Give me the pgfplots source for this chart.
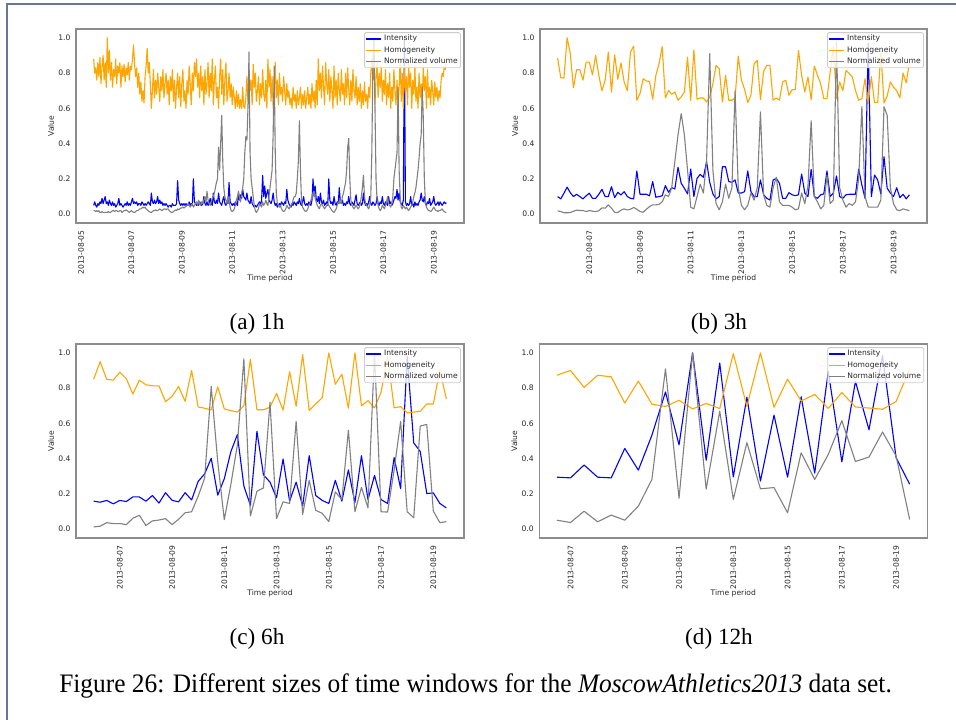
\documentclass[border=0pt]{standalone}
\usepackage{fontspec}
\setmainfont{Liberation Serif}
\newfontfamily\dv{DejaVu Sans}
\usepackage{pgfplots}
\usepackage{pgfplotstable}
\pgfplotsset{compat=1.18}
\definecolor{cI}{RGB}{0,0,255}
\definecolor{cH}{RGB}{255,165,0}
\definecolor{cV}{RGB}{128,128,128}
\definecolor{pageframe}{RGB}{100,120,150}

% ---------- (a) 1h ----------
\pgfplotstableread[row sep=crcr,header=false]{
0.88\\0.80\\0.83\\0.76\\0.86\\0.78\\0.89\\0.74\\0.84\\0.90\\0.76\\0.86\\
0.72\\1.00\\0.80\\0.93\\0.76\\0.86\\0.72\\0.82\\0.78\\0.88\\0.74\\0.84\\
0.80\\0.86\\0.72\\0.84\\0.78\\0.85\\0.75\\0.83\\0.79\\0.86\\0.76\\0.84\\
0.82\\0.88\\0.96\\0.85\\0.78\\0.83\\0.72\\0.80\\0.68\\0.75\\0.64\\0.70\\
0.63\\0.78\\0.84\\0.94\\0.80\\0.86\\0.74\\0.60\\0.70\\0.82\\0.66\\0.76\\
0.68\\0.80\\0.72\\0.64\\0.78\\0.70\\0.82\\0.66\\0.74\\0.80\\0.68\\0.76\\
0.62\\0.78\\0.70\\0.82\\0.64\\0.76\\0.60\\0.72\\0.80\\0.66\\0.78\\0.61\\
0.74\\0.82\\0.64\\0.70\\0.60\\0.76\\0.68\\0.84\\0.74\\0.62\\0.80\\0.70\\
0.86\\0.78\\0.88\\0.72\\0.80\\0.66\\0.84\\0.70\\0.78\\0.62\\0.82\\0.68\\
0.74\\0.86\\0.66\\0.80\\0.70\\0.88\\0.62\\0.76\\0.84\\0.66\\0.72\\0.60\\
0.78\\0.88\\0.68\\0.82\\0.62\\0.76\\0.86\\0.64\\0.70\\0.80\\0.66\\0.74\\
0.62\\0.72\\0.66\\0.60\\0.70\\0.61\\0.68\\0.60\\0.65\\0.60\\0.72\\0.61\\
0.60\\0.66\\0.78\\0.64\\0.82\\0.70\\0.76\\0.62\\0.85\\0.72\\0.80\\0.64\\
0.70\\0.78\\0.62\\0.74\\0.66\\0.82\\0.68\\0.64\\0.76\\0.60\\0.88\\0.72\\
0.82\\0.64\\0.78\\0.60\\0.70\\0.86\\0.66\\0.76\\0.62\\0.80\\0.68\\0.72\\
0.64\\0.78\\0.70\\0.62\\0.74\\0.66\\0.70\\0.62\\0.66\\0.60\\0.72\\0.64\\
0.68\\0.60\\0.70\\0.62\\0.66\\0.72\\0.60\\0.68\\0.62\\0.70\\0.60\\0.66\\
0.72\\0.62\\0.68\\0.60\\0.74\\0.64\\0.70\\0.60\\0.76\\0.62\\0.88\\0.70\\
0.80\\0.66\\0.84\\0.72\\0.62\\0.86\\0.74\\0.68\\0.82\\0.64\\0.78\\0.70\\
0.60\\0.84\\0.66\\0.76\\0.62\\0.80\\0.70\\0.64\\0.82\\0.68\\0.74\\0.62\\
0.80\\0.66\\0.83\\0.70\\0.62\\0.76\\0.64\\0.82\\0.70\\0.66\\0.78\\0.62\\
0.72\\0.64\\0.74\\0.60\\0.70\\0.62\\0.75\\0.64\\0.68\\0.60\\0.72\\0.66\\
0.80\\0.88\\0.76\\0.84\\0.62\\0.78\\0.86\\0.66\\0.80\\0.72\\0.84\\0.64\\
0.76\\0.68\\0.82\\0.62\\0.74\\0.66\\0.80\\0.60\\0.72\\0.64\\0.82\\0.70\\
0.62\\0.76\\0.60\\0.72\\0.88\\0.64\\0.80\\0.60\\0.84\\0.70\\0.78\\0.62\\
0.86\\0.72\\0.80\\0.60\\0.76\\0.68\\0.84\\0.64\\0.72\\0.60\\0.80\\0.66\\
0.74\\0.62\\0.84\\0.70\\0.78\\0.60\\0.82\\0.66\\0.72\\0.62\\0.76\\0.70\\
0.62\\0.75\\0.66\\0.72\\0.64\\0.70\\0.66\\0.76\\0.80\\0.78\\0.84\\0.82\\
0.88\\}\aH
\pgfplotstableread[row sep=crcr,header=false]{
0.05\\0.07\\0.05\\0.04\\0.06\\0.05\\0.07\\0.06\\0.09\\0.06\\0.08\\0.10\\
0.06\\0.07\\0.05\\0.08\\0.06\\0.05\\0.07\\0.05\\0.06\\0.04\\0.05\\0.06\\
0.09\\0.05\\0.06\\0.05\\0.04\\0.05\\0.06\\0.05\\0.07\\0.05\\0.06\\0.05\\
0.07\\0.09\\0.06\\0.07\\0.06\\0.07\\0.05\\0.06\\0.06\\0.05\\0.07\\0.06\\
0.05\\0.06\\0.05\\0.06\\0.07\\0.06\\0.05\\0.12\\0.07\\0.06\\0.08\\0.06\\
0.07\\0.10\\0.06\\0.08\\0.06\\0.07\\0.05\\0.06\\0.05\\0.06\\0.05\\0.04\\
0.05\\0.05\\0.04\\0.06\\0.05\\0.05\\0.05\\0.06\\0.19\\0.08\\0.06\\0.05\\
0.06\\0.05\\0.06\\0.05\\0.06\\0.05\\0.05\\0.07\\0.05\\0.06\\0.05\\0.20\\
0.07\\0.06\\0.05\\0.06\\0.05\\0.07\\0.06\\0.05\\0.06\\0.10\\0.06\\0.05\\
0.07\\0.05\\0.06\\0.09\\0.06\\0.05\\0.12\\0.07\\0.06\\0.08\\0.06\\0.12\\
0.07\\0.06\\0.05\\0.08\\0.10\\0.06\\0.05\\0.07\\0.06\\0.18\\0.07\\0.06\\
0.05\\0.06\\0.05\\0.07\\0.06\\0.05\\0.12\\0.08\\0.11\\0.09\\0.14\\0.10\\
0.09\\0.08\\0.12\\0.08\\0.07\\0.06\\0.10\\0.06\\0.05\\0.04\\0.05\\0.04\\
0.05\\0.06\\0.07\\0.05\\0.08\\0.22\\0.10\\0.16\\0.09\\0.12\\0.14\\0.08\\
0.07\\0.06\\0.08\\0.12\\0.07\\0.05\\0.06\\0.04\\0.05\\0.06\\0.05\\0.07\\
0.06\\0.05\\0.07\\0.06\\0.14\\0.08\\0.06\\0.05\\0.04\\0.06\\0.05\\0.07\\
0.06\\0.05\\0.07\\0.06\\0.09\\0.06\\0.05\\0.07\\0.10\\0.06\\0.05\\0.06\\
0.05\\0.07\\0.06\\0.05\\0.08\\0.20\\0.10\\0.16\\0.09\\0.07\\0.10\\0.06\\
0.12\\0.07\\0.06\\0.08\\0.05\\0.06\\0.07\\0.05\\0.20\\0.08\\0.06\\0.07\\
0.05\\0.10\\0.06\\0.05\\0.07\\0.06\\0.15\\0.07\\0.06\\0.08\\0.05\\0.06\\
0.05\\0.07\\0.06\\0.10\\0.06\\0.05\\0.07\\0.06\\0.05\\0.08\\0.11\\0.06\\
0.05\\0.06\\0.07\\0.05\\0.06\\0.12\\0.07\\0.05\\0.06\\0.05\\0.07\\0.10\\
0.06\\0.05\\0.07\\0.06\\0.05\\0.06\\0.10\\0.06\\0.05\\0.07\\0.06\\0.10\\
0.06\\0.05\\0.07\\0.06\\0.05\\0.10\\0.06\\0.07\\0.05\\0.06\\0.08\\0.10\\
0.09\\0.14\\0.08\\0.12\\0.07\\0.06\\0.05\\0.08\\1.00\\0.07\\0.05\\0.06\\
0.05\\0.06\\0.10\\0.05\\0.06\\0.04\\0.07\\0.05\\0.06\\0.05\\0.07\\0.08\\
0.12\\0.08\\0.07\\0.10\\0.06\\0.05\\0.07\\0.06\\0.09\\0.05\\0.06\\0.07\\
0.10\\0.06\\0.05\\0.06\\0.07\\0.05\\0.07\\0.06\\0.05\\0.06\\0.07\\0.06\\
0.065\\}\aI
\pgfplotstableread[row sep=crcr,header=false]{
0.02\\0.02\\0.015\\0.02\\0.015\\0.02\\0.01\\0.01\\0.015\\0.01\\0.01\\0.01\\
0.01\\0.01\\0.015\\0.01\\0.01\\0.015\\0.02\\0.02\\0.015\\0.02\\0.02\\0.015\\
0.015\\0.02\\0.02\\0.01\\0.015\\0.02\\0.02\\0.025\\0.02\\0.015\\0.01\\0.015\\
0.02\\0.015\\0.01\\0.01\\0.015\\0.02\\0.02\\0.025\\0.03\\0.03\\0.035\\0.04\\
0.035\\0.04\\0.03\\0.025\\0.02\\0.015\\0.01\\0.01\\0.015\\0.02\\0.02\\0.025\\
0.02\\0.02\\0.025\\0.03\\0.025\\0.02\\0.025\\0.03\\0.03\\0.025\\0.03\\0.03\\
0.02\\0.015\\0.01\\0.01\\0.015\\0.02\\0.025\\0.02\\0.03\\0.025\\0.03\\0.035\\
0.035\\0.04\\0.035\\0.04\\0.045\\0.05\\0.06\\0.05\\0.04\\0.05\\0.06\\0.04\\
0.05\\0.06\\0.07\\0.05\\0.08\\0.06\\0.05\\0.07\\0.06\\0.08\\0.10\\0.07\\
0.13\\0.08\\0.06\\0.05\\0.07\\0.09\\0.10\\0.12\\0.15\\0.18\\0.20\\0.38\\
0.25\\0.40\\0.56\\0.30\\0.15\\0.10\\0.08\\0.06\\0.10\\0.08\\0.04\\0.02\\
0.015\\0.02\\0.03\\0.05\\0.08\\0.10\\0.13\\0.09\\0.07\\0.12\\0.15\\0.20\\
0.35\\0.44\\0.42\\0.60\\0.92\\0.35\\0.20\\0.15\\0.10\\0.05\\0.02\\0.01\\
0.02\\0.03\\0.06\\0.05\\0.04\\0.07\\0.05\\0.06\\0.08\\0.06\\0.05\\0.10\\
0.15\\0.20\\0.25\\0.45\\0.84\\0.35\\0.12\\0.06\\0.05\\0.04\\0.05\\0.03\\
0.02\\0.015\\0.02\\0.03\\0.05\\0.04\\0.03\\0.04\\0.05\\0.06\\0.08\\0.10\\
0.10\\0.12\\0.20\\0.30\\0.53\\0.25\\0.08\\0.04\\0.03\\0.02\\0.015\\0.02\\
0.03\\0.05\\0.06\\0.08\\0.10\\0.12\\0.13\\0.09\\0.07\\0.05\\0.04\\0.03\\
0.05\\0.06\\0.05\\0.04\\0.03\\0.04\\0.05\\0.06\\0.05\\0.04\\0.03\\0.02\\
0.015\\0.01\\0.02\\0.03\\0.05\\0.07\\0.06\\0.08\\0.06\\0.10\\0.12\\0.15\\
0.18\\0.25\\0.38\\0.43\\0.20\\0.08\\0.05\\0.04\\0.03\\0.04\\0.05\\0.04\\
0.03\\0.04\\0.06\\0.10\\0.15\\0.22\\0.10\\0.06\\0.05\\0.04\\0.03\\0.05\\
0.10\\0.35\\0.85\\1.00\\0.60\\0.20\\0.08\\0.05\\0.03\\0.02\\0.03\\0.05\\
0.04\\0.03\\0.05\\0.07\\0.10\\0.06\\0.05\\0.04\\0.06\\0.10\\0.20\\0.25\\
0.30\\0.35\\0.72\\0.25\\0.10\\0.04\\0.03\\0.05\\0.04\\0.03\\0.04\\0.03\\
0.02\\0.03\\0.04\\0.05\\0.07\\0.10\\0.12\\0.15\\0.20\\0.25\\0.32\\0.40\\
0.45\\0.72\\0.55\\0.20\\0.07\\0.04\\0.03\\0.02\\0.02\\0.015\\0.02\\0.03\\
0.04\\0.03\\0.02\\0.02\\0.015\\0.02\\0.02\\0.025\\0.03\\0.02\\0.015\\0.01\\
0.01\\}\aV

% ---------- (b) 3h ----------
\pgfplotstableread[row sep=crcr,header=false]{
0.885\\0.774\\0.772\\1.0\\0.91\\0.717\\0.82\\0.82\\0.76\\0.862\\0.862\\0.79\\0.90\\0.787\\
0.70\\0.76\\0.919\\0.693\\0.904\\0.765\\0.857\\0.75\\0.70\\0.92\\0.953\\0.646\\0.684\\0.768\\
0.755\\0.753\\0.652\\0.787\\0.853\\0.95\\0.659\\0.702\\0.68\\0.693\\0.646\\0.665\\0.693\\0.89\\
0.646\\0.932\\0.652\\0.659\\0.659\\0.636\\0.665\\0.74\\0.844\\0.825\\0.636\\0.787\\0.646\\0.646\\
0.66\\0.896\\0.76\\0.708\\0.633\\0.674\\0.853\\0.872\\0.65\\0.81\\0.844\\0.844\\0.646\\0.659\\
0.646\\0.75\\0.759\\0.674\\0.706\\0.706\\0.928\\0.787\\0.693\\0.778\\0.65\\0.84\\0.787\\0.74\\
0.655\\0.655\\0.806\\0.95\\0.655\\0.75\\0.70\\0.815\\0.797\\0.778\\0.70\\0.646\\0.655\\0.768\\
0.627\\0.78\\0.633\\0.633\\0.92\\0.63\\0.67\\0.75\\0.72\\0.70\\0.66\\0.80\\0.745\\0.86\\}\bH
\pgfplotstableread[row sep=crcr,header=false]{
0.10\\0.087\\0.119\\0.153\\0.122\\0.10\\0.113\\0.10\\0.087\\0.104\\0.119\\0.09\\0.09\\0.113\\
0.141\\0.10\\0.10\\0.156\\0.094\\0.124\\0.109\\0.128\\0.10\\0.09\\0.087\\0.245\\0.113\\0.113\\
0.113\\0.104\\0.185\\0.096\\0.10\\0.104\\0.162\\0.124\\0.151\\0.143\\0.266\\0.175\\0.147\\0.115\\
0.256\\0.10\\0.203\\0.226\\0.209\\0.298\\0.181\\0.115\\0.087\\0.10\\0.269\\0.269\\0.185\\0.181\\
0.194\\0.12\\0.12\\0.128\\0.245\\0.128\\0.10\\0.10\\0.194\\0.11\\0.09\\0.08\\0.194\\0.203\\
0.175\\0.09\\0.09\\0.122\\0.11\\0.105\\0.11\\0.228\\0.12\\0.10\\0.254\\0.10\\0.09\\0.11\\
0.115\\0.245\\0.10\\0.12\\0.217\\0.10\\0.09\\0.11\\0.113\\0.113\\0.113\\0.256\\0.166\\0.09\\
0.97\\0.10\\0.222\\0.194\\0.115\\0.326\\0.147\\0.12\\0.10\\0.15\\0.094\\0.113\\0.087\\0.11\\}\bI
\pgfplotstableread[row sep=crcr,header=false]{
0.019\\0.015\\0.008\\0.008\\0.009\\0.017\\0.023\\0.021\\0.021\\0.015\\0.021\\0.017\\0.015\\0.019\\
0.036\\0.034\\0.053\\0.034\\0.011\\0.009\\0.023\\0.03\\0.024\\0.028\\0.038\\0.028\\0.015\\0.011\\
0.028\\0.043\\0.053\\0.053\\0.056\\0.07\\0.11\\0.10\\0.15\\0.30\\0.45\\0.57\\0.45\\0.25\\
0.04\\0.03\\0.10\\0.17\\0.12\\0.30\\0.91\\0.25\\0.06\\0.025\\0.07\\0.17\\0.09\\0.15\\
0.70\\0.15\\0.05\\0.025\\0.05\\0.12\\0.08\\0.15\\0.58\\0.11\\0.05\\0.04\\0.15\\0.21\\
0.07\\0.05\\0.05\\0.05\\0.04\\0.025\\0.03\\0.12\\0.06\\0.16\\0.53\\0.10\\0.07\\0.03\\
0.05\\0.22\\0.06\\0.08\\0.98\\0.15\\0.08\\0.04\\0.06\\0.05\\0.07\\0.20\\0.61\\0.10\\
0.04\\0.04\\0.04\\0.04\\0.08\\0.61\\0.56\\0.15\\0.06\\0.025\\0.02\\0.03\\0.025\\0.02\\}\bV

% ---------- (c) 6h ----------
\pgfplotstableread[row sep=crcr,header=false]{
0.85\\0.95\\0.85\\0.845\\0.89\\0.854\\0.766\\0.845\\0.819\\0.813\\0.813\\
0.723\\0.753\\0.809\\0.725\\0.90\\0.693\\0.686\\0.677\\0.807\\0.682\\0.673\\
0.664\\0.70\\0.963\\0.677\\0.677\\0.692\\0.77\\0.675\\0.893\\0.697\\0.99\\
0.673\\0.71\\0.746\\1.0\\0.822\\0.879\\0.686\\1.0\\0.70\\0.729\\0.688\\
0.776\\0.98\\0.688\\0.695\\0.66\\0.664\\0.669\\0.71\\0.71\\0.903\\0.738\\}\cH
\pgfplotstableread[row sep=crcr,header=false]{
0.159\\0.153\\0.163\\0.144\\0.163\\0.157\\0.183\\0.183\\0.159\\0.191\\0.148\\
0.207\\0.164\\0.155\\0.207\\0.166\\0.271\\0.314\\0.402\\0.193\\0.286\\0.439\\
0.536\\0.245\\0.135\\0.555\\0.308\\0.267\\0.178\\0.398\\0.159\\0.267\\0.131\\
0.417\\0.191\\0.163\\0.146\\0.277\\0.159\\0.336\\0.151\\0.417\\0.168\\0.305\\
0.168\\0.146\\0.406\\0.23\\0.98\\0.49\\0.44\\0.202\\0.206\\0.146\\0.121\\}\cI
\pgfplotstableread[row sep=crcr,header=false]{
0.013\\0.017\\0.037\\0.032\\0.032\\0.026\\0.062\\0.079\\0.021\\0.047\\0.052\\
0.06\\0.026\\0.056\\0.093\\0.099\\0.187\\0.29\\0.809\\0.383\\0.054\\0.252\\
0.477\\0.966\\0.075\\0.215\\0.234\\0.72\\0.06\\0.155\\0.146\\0.611\\0.084\\
0.277\\0.107\\0.09\\0.043\\0.211\\0.168\\0.561\\0.099\\0.237\\0.121\\1.0\\
0.099\\0.097\\0.336\\0.611\\0.099\\0.065\\0.585\\0.594\\0.103\\0.037\\0.043\\}\cV

% ---------- (d) 12h ----------
\pgfplotstableread[row sep=crcr,header=false]{
0.873\\0.90\\0.804\\0.873\\0.864\\0.715\\0.84\\0.709\\0.696\\0.731\\0.682\\0.713\\0.684\\0.996\\
0.696\\1.0\\0.691\\0.851\\0.727\\0.764\\0.685\\0.775\\0.693\\0.687\\0.68\\0.724\\0.91\\}\dH
\pgfplotstableread[row sep=crcr,header=false]{
0.295\\0.291\\0.364\\0.295\\0.291\\0.458\\0.335\\0.533\\0.778\\0.478\\1.0\\0.391\\0.942\\0.296\\
0.749\\0.273\\0.647\\0.295\\0.751\\0.318\\0.895\\0.382\\0.838\\0.564\\0.985\\0.405\\0.255\\}\dI
\pgfplotstableread[row sep=crcr,header=false]{
0.051\\0.038\\0.102\\0.042\\0.08\\0.051\\0.131\\0.282\\0.909\\0.175\\1.0\\0.227\\0.669\\0.169\\
0.491\\0.229\\0.236\\0.093\\0.433\\0.282\\0.424\\0.615\\0.384\\0.409\\0.551\\0.415\\0.055\\}\dV

\newcommand{\smallfont}{\dv\fontsize{3.8}{4.5}\selectfont}
\pgfplotsset{
  panel/.style={
    scale only axis, width=194pt, height=97pt,
    ymin=-0.05, ymax=1.05,
    ytick={0,0.2,0.4,0.6,0.8,1},
    yticklabels={0.0,0.2,0.4,0.6,0.8,1.0},
    axis line style={draw=black!45, line width=0.55pt},
    major tick length=0pt, tick style={draw=none},
    tick label style={font=\smallfont, text=black!85},
    yticklabel style={anchor=east, inner sep=0pt, xshift=-2.6pt},
    xticklabel style={inner sep=0pt, yshift=-3.5pt, rotate=90, anchor=east},
    xlabel={Time period}, ylabel={Value},
    every axis x label/.style={at={(axis description cs:0.5,0)}, yshift=-27.5pt, anchor=center, font=\smallfont, text=black!85},
    every axis y label/.style={at={(axis description cs:0,0.5)}, xshift=-12.5pt, rotate=90, anchor=center, font=\smallfont, text=black!85},
    legend style={at={(1,1)}, anchor=north east, xshift=-1.6pt, yshift=-1.6pt,
      draw=black!20, line width=0.4pt, fill=white, fill opacity=0.8, text opacity=1,
      rounded corners=0.7pt, font=\smallfont, text=black!85,
      inner xsep=0.35pt, inner ysep=0.4pt,
      nodes={inner sep=1pt, text height=2.75pt, text depth=0.85pt}},
    legend cell align=left,
    legend image code/.code={\draw[#1] (0pt,0pt) -- (7.85pt,0pt);},
    every axis plot/.append style={line width=0.55pt, line join=round},
  }
}

\begin{document}
\begin{tikzpicture}
\useasboundingbox (0,0) rectangle (478pt,-359.5pt);
\draw[pageframe, line width=1pt] (3.6pt,-360pt) -- (3.6pt,-1.85pt) -- (479pt,-1.85pt);

% (a)
\begin{axis}[panel, at={(38pt,-111.5pt)}, anchor=south west,
  xmin=-0.2, xmax=15.2, xtick={0,2,4,6,8,10,12,14},
  xticklabels={2013-08-05,2013-08-07,2013-08-09,2013-08-11,2013-08-13,2013-08-15,2013-08-17,2013-08-19}]
\addplot[cI] table[x expr={0.5+\coordindex/24}, y index=0] {\aI};
\addplot[cH] table[x expr={0.5+\coordindex/24}, y index=0] {\aH};
\addplot[cV] table[x expr={0.5+\coordindex/24}, y index=0] {\aV};
\legend{Intensity,Homogeneity,Normalized volume}
\end{axis}

% (b)
\begin{axis}[panel, width=193.5pt, at={(270pt,-111.5pt)}, anchor=south west,
  xmin=0.056, xmax=15.32, xtick={2,4,6,8,10,12,14},
  xticklabels={2013-08-07,2013-08-09,2013-08-11,2013-08-13,2013-08-15,2013-08-17,2013-08-19}]
\addplot[cI] table[x expr={0.75+\coordindex/8}, y index=0] {\bI};
\addplot[cH] table[x expr={0.75+\coordindex/8}, y index=0] {\bH};
\addplot[cV] table[x expr={0.75+\coordindex/8}, y index=0] {\bV};
\legend{Intensity,Homogeneity,Normalized volume}
\end{axis}

% (c)
\begin{axis}[panel, at={(38pt,-269pt)}, anchor=south west,
  xmin=0.325, xmax=15.175, xtick={2,4,6,8,10,12,14},
  xticklabels={2013-08-07,2013-08-09,2013-08-11,2013-08-13,2013-08-15,2013-08-17,2013-08-19}]
\addplot[cI] table[x expr={1+\coordindex/4}, y index=0] {\cI};
\addplot[cH] table[x expr={1+\coordindex/4}, y index=0] {\cH};
\addplot[cV] table[x expr={1+\coordindex/4}, y index=0] {\cV};
\legend{Intensity,Homogeneity,Normalized volume}
\end{axis}

% (d)
\begin{axis}[panel, at={(269.65pt,-269pt)}, anchor=south west,
  xmin=0.85, xmax=15.15, xtick={2,4,6,8,10,12,14},
  xticklabels={2013-08-07,2013-08-09,2013-08-11,2013-08-13,2013-08-15,2013-08-17,2013-08-19}]
\addplot[cI] table[x expr={1.5+\coordindex/2}, y index=0] {\dI};
\addplot[cH] table[x expr={1.5+\coordindex/2}, y index=0] {\dH};
\addplot[cV] table[x expr={1.5+\coordindex/2}, y index=0] {\dV};
\legend{Intensity,Homogeneity,Normalized volume}
\end{axis}

\node[font=\fontsize{11.6}{14}\selectfont, anchor=base] at (128.5pt,-164.7pt) {(a) 1h};
\node[font=\fontsize{11.6}{14}\selectfont, anchor=base] at (359.5pt,-164.7pt) {(b) 3h};
\node[font=\fontsize{11.6}{14}\selectfont, anchor=base] at (128.5pt,-322.2pt) {(c) 6h};
\node[font=\fontsize{11.6}{14}\selectfont, anchor=base] at (359.5pt,-322.2pt) {(d) 12h};
\node[font=\fontsize{12.7}{15}\selectfont, anchor=base, yscale=1.05] at (237.8pt,-346pt) {Figure 26: Different sizes of time windows for the \textit{MoscowAthletics2013} data set.};
\end{tikzpicture}
\end{document}
